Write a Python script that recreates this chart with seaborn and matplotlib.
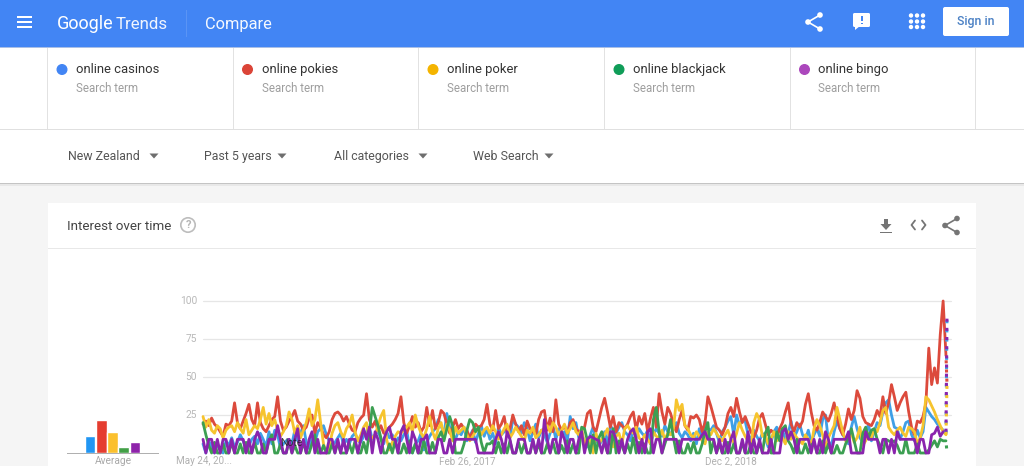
import numpy as np
import pandas as pd
import matplotlib
matplotlib.use('Agg')
import matplotlib.pyplot as plt
from matplotlib.patches import Rectangle, Circle, FancyBboxPatch, Polygon
import seaborn as sns

terms = ['online casinos', 'online pokies', 'online poker', 'online blackjack', 'online bingo']
dot_colors = ['#4285f4', '#db4437', '#f4b400', '#0f9d58', '#ab47bc']
line_colors = ['#3f9fe6', '#dc4a3c', '#f6c42e', '#3c9f52', '#8a24ad']
bar_colors = ['#2196f3', '#e53d30', '#fbc02d', '#43a047', '#8e24aa']
averages = [11, 22, 14, 4, 7]
filters = ['New Zealand', 'Past 5 years', 'All categories', 'Web Search']
y_ticks = [25, 50, 75, 100]
date_labels = ['May 24, 20...', 'Feb 26, 2017', 'Dec 2, 2018']

# weekly values, last value is the partial week
casinos = [6,0,8,4,0,6,2,0,8,5,
    10,4,7,12,8,3,5,9,11,6,
    13,9,4,14,6,15,12,3,6,8,
    9,6,15,8,13,18,7,3,10,7,
    14,16,18,12,8,5,7,10,13,5,
    9,6,11,13,8,7,11,14,17,9,
    12,15,9,6,14,10,12,6,10,8,
    12,15,4,0,6,8,13,2,7,11,
    14,16,22,18,12,26,17,13,9,14,
    12,17,8,11,15,7,13,18,11,16,
    9,13,6,17,12,14,18,10,22,19,
    17,13,20,16,8,14,19,10,15,12,
    7,13,18,9,16,11,14,8,24,16,
    20,10,13,7,4,12,17,9,5,8,
    14,6,18,15,13,17,20,14,12,8,
    15,10,16,13,11,15,6,12,16,13,
    11,18,14,12,17,20,13,10,14,12,
    8,13,6,16,9,21,16,15,18,13,
    7,14,17,21,24,12,25,18,22,21,
    12,9,15,11,8,13,10,4,7,14,
    17,12,16,8,13,21,10,14,19,12,
    9,15,7,12,16,11,22,25,8,4,
    14,21,16,12,9,6,17,24,16,10,
    7,13,19,8,14,20,18,27,33,35,
    25,17,16,9,14,20,21,12,8,15,
    10,14,30,27,24,22,19,17,15,13,
    91]
pokies = [19,21,18,23,19,17,14,11,19,18,
    21,33,20,16,21,26,32,22,18,33,
    20,16,14,18,22,24,37,21,15,17,
    21,24,28,21,19,15,17,23,25,13,
    20,17,12,10,14,22,26,27,25,21,
    24,19,15,14,20,23,25,39,22,17,
    21,15,18,13,15,17,19,22,26,37,
    20,13,18,24,17,20,14,17,30,18,
    28,16,20,28,26,19,13,17,22,16,
    19,16,15,10,14,19,17,18,22,32,
    19,15,28,16,19,24,13,16,25,19,
    14,18,12,21,16,14,12,22,27,28,
    15,23,14,35,19,15,18,13,20,22,
    16,14,15,17,26,28,17,14,22,30,
    36,27,17,24,14,20,18,16,19,24,
    27,15,24,19,26,14,23,30,17,39,
    27,19,30,26,19,14,22,28,18,15,
    24,23,25,22,14,20,37,31,24,17,
    15,12,17,26,30,24,36,27,20,24,
    19,14,10,15,23,26,19,12,15,13,
    11,16,20,27,33,19,14,20,17,21,
    32,39,27,18,15,20,27,24,21,26,
    33,24,16,12,19,29,22,28,41,36,
    24,20,19,18,22,28,24,37,26,33,
    45,37,28,33,37,40,27,17,12,21,
    20,24,33,69,45,56,46,78,100,64,
    45]
poker = [24,17,22,15,13,18,16,10,15,17,
    18,14,20,16,13,22,12,15,18,16,
    22,30,19,26,18,22,15,11,14,18,
    27,22,13,18,10,15,20,29,18,22,
    35,20,6,0,4,13,18,20,14,10,
    16,19,25,14,8,12,17,20,8,10,
    12,18,24,28,9,2,7,11,14,13,
    15,17,20,14,25,18,13,10,16,24,
    14,9,16,20,11,19,15,8,17,13,
    15,17,12,8,11,14,16,12,15,17,
    13,18,14,9,12,16,19,10,13,17,
    14,11,8,15,13,17,10,12,15,16,
    18,14,20,17,12,15,19,13,16,20,
    14,12,16,5,10,8,0,13,6,9,
    12,16,8,4,11,13,6,16,18,15,
    13,17,10,8,12,9,6,14,11,10,
    15,9,13,12,16,35,28,32,18,16,
    12,10,14,11,8,6,14,12,16,13,
    10,8,12,15,9,7,13,20,15,11,
    8,4,20,26,22,11,12,6,9,14,
    8,12,10,6,14,9,13,10,8,6,
    12,9,5,16,22,18,12,3,10,14,
    18,30,22,14,8,10,13,7,10,17,
    5,8,13,10,16,14,20,28,30,17,
    14,12,15,17,13,11,17,16,14,6,
    10,18,37,35,31,27,22,18,14,12,
    45]
blackjack = [20,12,5,0,7,0,0,6,0,0,
    7,0,0,6,0,7,0,0,7,0,
    0,6,0,8,12,0,0,6,0,0,
    8,0,5,0,0,7,0,0,6,12,
    0,0,5,0,0,6,0,7,0,0,
    0,6,0,8,0,0,7,0,14,30,
    24,18,10,0,0,6,0,8,0,0,
    6,0,8,0,6,0,0,8,0,0,
    7,0,10,14,8,16,24,18,0,0,
    0,6,15,22,20,14,17,7,0,6,
    6,8,0,7,0,6,0,8,0,0,
    7,0,6,0,0,8,0,6,0,0,
    6,0,7,0,0,5,0,8,0,6,
    0,0,17,16,8,0,12,0,10,14,
    6,0,0,16,0,8,5,0,6,0,
    10,0,7,0,6,0,0,22,30,14,
    0,6,12,22,10,0,8,0,0,6,
    0,7,0,0,6,14,20,0,8,0,
    6,0,0,7,0,6,0,0,7,0,
    0,6,0,0,7,0,13,17,0,0,
    14,8,16,18,8,5,0,9,0,0,
    6,0,5,7,0,0,8,0,6,0,
    0,5,0,0,6,10,16,8,0,0,
    13,17,10,15,16,9,5,0,9,8,
    7,8,5,0,0,9,0,0,0,6,
    0,0,0,2,5,8,4,9,8,8,
    0]
bingo = [9,0,9,9,0,9,0,9,9,0,
    9,0,9,9,9,0,9,0,9,14,
    9,0,0,9,9,9,18,9,0,0,
    9,0,9,16,0,9,0,9,14,0,
    9,0,0,0,9,9,0,9,0,9,
    0,9,9,9,0,9,16,9,17,0,
    14,9,0,9,14,17,9,9,0,14,
    18,9,0,14,9,0,9,9,12,0,
    0,0,9,9,0,0,9,0,9,9,
    9,9,9,9,9,9,0,0,0,0,
    0,0,9,14,9,0,14,9,0,0,
    9,9,9,0,0,9,0,9,0,22,
    9,0,9,9,0,14,9,0,9,9,
    0,9,14,0,9,11,10,9,8,0,
    9,0,14,14,9,0,9,0,9,14,
    16,9,0,9,0,14,16,0,9,9,
    0,9,9,9,9,9,0,9,9,9,
    9,9,9,9,12,14,9,9,9,0,
    9,0,9,0,9,14,0,0,9,0,
    14,0,9,0,9,0,0,0,9,0,
    0,0,14,16,9,14,9,0,9,9,
    9,9,0,9,0,9,0,14,9,0,
    9,9,9,9,9,14,0,0,0,0,
    0,14,9,9,9,9,0,9,9,0,
    9,0,14,9,9,9,9,9,9,0,
    9,9,0,0,12,13,17,11,14,14,
    91]

W, H = 1024, 466
sns.set_style('white')
plt.rcParams['font.family'] = ['Roboto', 'DejaVu Sans']

fig = plt.figure(figsize=(W/100, H/100), dpi=100)

def px_axes(x0, y0, x1, y1):
    return fig.add_axes([x0/W, 1-y1/H, (x1-x0)/W, (y1-y0)/H])

#Page furniture, drawn in pixel coordinates
bg = fig.add_axes([0, 0, 1, 1])
bg.set_xlim(0, W)
bg.set_ylim(H, 0)
bg.axis('off')

def box(x, y, w, h, color, z=1):
    bg.add_patch(Rectangle((x, y), w, h, facecolor=color, edgecolor='none', zorder=z))

box(0, 0, W, H, '#f5f5f5')
box(0, 47, W, 136, 'white')
box(0, 182.5, W, 1.5, '#c4c4c4')
box(0, 184, W, 1.5, '#e8e8e8')
box(48, 203, 928, 263, 'white')
box(48, 248, 928, 1, '#e8e8e8')
box(0, 129, W, 1, '#e0e0e0')
box(0, 0, W, 47, '#4285f4', 3)
box(0, 47, W, 1.2, '#a9bfe6', 3)
for x in [47, 232.7, 418.3, 604, 789.7, 975.3]:
    box(x, 48, 1, 81, '#e2e2e2')

#Header
for y in [17, 22, 27]:
    box(17, y-0.9, 15, 1.8, 'white', 4)
bg.text(56.5, 29, 'Google', color='white', fontsize=13, va='baseline', zorder=4)
bg.text(116, 29, 'Trends', color='white', fontsize=12.2, va='baseline', alpha=0.92, zorder=4)
box(186, 10, 1, 27, '#5a94f5', 4)
bg.text(205, 28.5, 'Compare', color='white', fontsize=11.8, va='baseline', alpha=0.95, zorder=4)

def share_icon(x, y, color, z):
    tip = [(x+6, y-7), (x-6, y), (x+6, y+7)]
    bg.plot([p[0] for p in tip], [p[1] for p in tip], color=color, lw=1.2, zorder=z)
    for p in tip:
        bg.add_patch(Circle(p, 2.1, color=color, zorder=z))

share_icon(814, 22, 'white', 4)
bg.add_patch(FancyBboxPatch((854.5, 14.5), 14, 11, boxstyle='round,pad=1.5,rounding_size=1.5', fc='white', ec='none', zorder=4))
bg.add_patch(Polygon([(855, 26), (855, 30), (860, 26)], fc='white', ec='none', zorder=4))
box(861, 16, 1.6, 5, '#4285f4', 5)
box(861, 22.5, 1.6, 1.6, '#4285f4', 5)
for gx in [911, 917, 923]:
    for gy in [15.5, 21.5, 27]:
        bg.add_patch(Circle((gx, gy), 1.5, color='white', zorder=4))
bg.add_patch(FancyBboxPatch((945, 9), 62, 25, boxstyle='round,pad=2,rounding_size=2', fc='white', ec='none', zorder=4))
bg.text(976, 21, 'Sign in', color='#4a80c4', fontsize=8.9, weight='medium', ha='center', va='center', zorder=5)

#Search terms row
term_x = [62, 247.5, 433, 619, 804.5]
for x, name, col in zip(term_x, terms, dot_colors):
    bg.add_patch(Circle((x, 69.5), 4.8, color=col, zorder=3))
    bg.text(x+14, 73, name, color='#333333', fontsize=9.4, va='baseline', zorder=3)
    bg.text(x+14, 92, 'Search term', color='#9e9e9e', fontsize=8.3, va='baseline', zorder=3)

#Filter row
filter_x = [68.5, 203.5, 334.5, 473]
arrow_x = [154, 282, 423, 549]
for x, ax_, name in zip(filter_x, arrow_x, filters):
    bg.text(x, 160, name, color='#555555', fontsize=8.9, va='baseline', zorder=3)
    bg.add_patch(Polygon([(ax_-4.5, 153.5), (ax_+4.5, 153.5), (ax_, 158.5)], fc='#6e6e6e', ec='none', zorder=3))

#Card header
bg.text(67, 230, 'Interest over time', color='#444444', fontsize=9.6, va='baseline', zorder=3)
bg.add_patch(Circle((188, 225), 7.2, fc='none', ec='#bdbdbd', lw=1.2, zorder=3))
bg.text(188, 225.3, '?', color='#b5b5b5', fontsize=8, ha='center', va='center', weight='bold', zorder=3)
box(880, 231.5, 12, 1.6, '#757575', 3)
box(884, 219, 4, 5, '#757575', 3)
bg.add_patch(Polygon([(880.5, 224), (891.5, 224), (886, 230)], fc='#757575', ec='none', zorder=3))
bg.plot([915, 911.5, 915], [220.5, 225, 229.5], color='#757575', lw=1.3, zorder=3)
bg.plot([922, 925.5, 922], [220.5, 225, 229.5], color='#757575', lw=1.3, zorder=3)
share_icon(951, 225.5, '#757575', 3)

#Average bars
bar_df = pd.DataFrame({'term': terms, 'average': averages})
ax_bar = px_axes(84.5, 301, 140.5, 453)
ax_bar.patch.set_alpha(0)
sns.barplot(data=bar_df, x='term', y='average', hue='term', palette=bar_colors, width=0.96,
            legend=False, ax=ax_bar, saturation=1)
ax_bar.set_ylim(0, 100)
ax_bar.set_xlim(-0.5, 4.5)
ax_bar.axis('off')
box(67, 452.5, 92, 1, '#b0b0b0', 3)
bg.text(113, 461.5, 'Average', color='#a8a8a8', fontsize=7.3, ha='center', va='center', zorder=3)

#Interest over time lines
weeks = np.append(np.arange(260), 259.35)
rows = []
for name, vals in zip(terms, [casinos, pokies, poker, blackjack, bingo]):
    rows.append(pd.DataFrame({'week': weeks, 'value': vals, 'term': name}))
df = pd.concat(rows)
last_week = weeks[-1]
solid = df[df['week'] <= 259]
tail = df[df['week'] >= 259]

ax = px_axes(203, 301, 947, 453)
ax.patch.set_alpha(0)
ax.set_xlim(0, last_week)
ax.set_ylim(0, 100)
for t in y_ticks:
    ax.plot([0, 1.005], [t/100, t/100], transform=ax.transAxes, color='#e6e6e6', lw=0.9, clip_on=False, zorder=1)
    bg.text(197, 453-t*1.52, str(t), color='#b8b8b8', fontsize=7.3, ha='right', va='center', zorder=3)
sns.lineplot(data=solid, x='week', y='value', hue='term', palette=line_colors, hue_order=terms,
             estimator=None, sort=False, lw=2.0, legend=False, ax=ax, clip_on=False, zorder=3)
sns.lineplot(data=tail, x='week', y='value', hue='term', palette=line_colors, hue_order=terms,
             estimator=None, sort=False, lw=2.2, legend=False, ax=ax, clip_on=False, zorder=3)
#Partial week stays dotted, shifted per series so the overlapping dots stay visible
for i, line in enumerate(ax.get_lines()[-5:]):
    line.set_linestyle((i*1.5, (1, 2)))

for x, label in zip([204, 467, 731], date_labels):
    bg.text(x, 461.5, label, color='#b0b0b0', fontsize=7.1, ha='center', va='center', zorder=3)
ax.axis('off')

fig.text(291/W, 1-443/H, 'Note', color='#222222', fontsize=7.5, ha='center', va='center', zorder=10, alpha=0.85)

fig.savefig('out.png', dpi=100)
plt.close()
